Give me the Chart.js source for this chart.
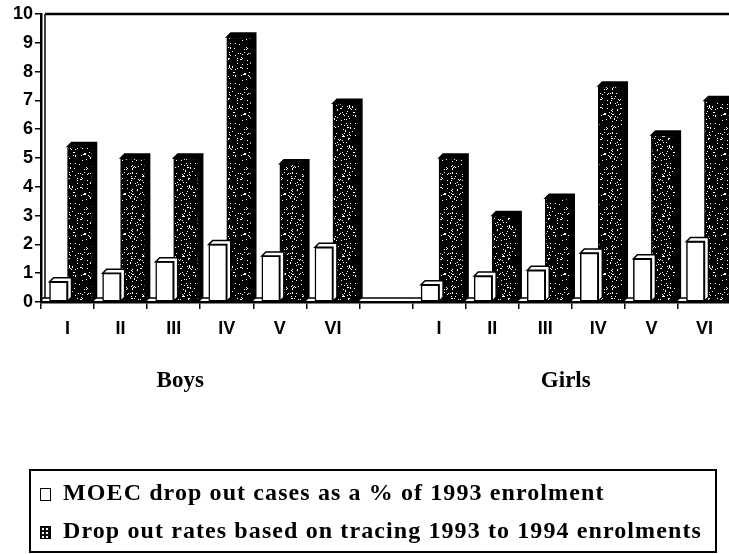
<!DOCTYPE html>
<html>
<head>
<meta charset="utf-8">
<script src="https://cdn.jsdelivr.net/npm/chart.js@4/dist/chart.umd.min.js"></script>
<style>
  html, body { margin: 0; padding: 0; background: #fff; overflow: hidden; }
  #wrap { position: relative; width: 729px; height: 554px; overflow: hidden; }
  #chart { position: absolute; left: 0; top: 0; }
  #legend {
    position: absolute; left: 29px; top: 469px; width: 684px; height: 80px;
    border: 2px solid #000;
    font-family: "Liberation Serif", "Times New Roman", serif; font-weight: bold;
    font-size: 24px; letter-spacing: 1.1px; color: #000;
  }
  .row { position: absolute; left: 9px; white-space: nowrap; line-height: 26px; }
  .sw { display: inline-block; width: 9px; height: 11px; border: 1.5px solid #000; margin-right: 12px; vertical-align: -1px; }
  .sw.dark { background: #111; background-image: radial-gradient(#fff 0.8px, transparent 1px); background-size: 4px 4px; }
</style>
</head>
<body>
<div id="wrap">
  <canvas id="chart" width="731" height="554"></canvas>
  <div id="legend">
    <div class="row" style="top:8px"><span class="sw"></span>MOEC drop out cases as a % of 1993 enrolment</div>
    <div class="row" style="top:46px"><span class="sw dark"></span>Drop out rates based on tracing 1993 to 1994 enrolments</div>
  </div>
</div>
<script>
// Categories (gap between boys and girls is an empty category)
let grades = ['I', 'II', 'III', 'IV', 'V', 'VI', '', 'I', 'II', 'III', 'IV', 'V', 'VI'];
let groupNames = ['Boys', 'Girls'];

// MOEC drop out cases as a % of 1993 enrolment
let moecValues = [0.7, 1.0, 1.4, 2.0, 1.6, 1.9, null, 0.6, 0.9, 1.1, 1.7, 1.5, 2.1];
// Drop out rates based on tracing 1993 to 1994 enrolments
let tracingValues = [5.4, 5.0, 5.0, 9.2, 4.8, 6.9, null, 5.0, 3.0, 3.6, 7.5, 5.8, 7.0];

let yTicks = [0, 1, 2, 3, 4, 5, 6, 7, 8, 9, 10];

// speckled black fill for the dark bars
function speckle() {
    let c = document.createElement('canvas');
    c.width = 40; c.height = 40;
    let g = c.getContext('2d');
    g.fillStyle = '#000';
    g.fillRect(0, 0, 40, 40);
    g.fillStyle = '#fff';
    let s = 12345;
    function next() {
        s = (s * 1103515245 + 12345) % 2147483648;
        return Math.floor(s / 65536) % 40;
    }
    for (let i = 0; i < 150; i++) {
        let x = next(), y = next();
        g.fillRect(x, y, 1, 1);
    }
    return g.createPattern(c, 'repeat');
}

const DEPTH = 4;

// floor, walls and the top edge of the back wall
const framePlugin = {
    id: 'frame',
    beforeDatasetsDraw(chart) {
        const { ctx, chartArea: a } = chart;
        ctx.save();
        ctx.strokeStyle = '#000';
        ctx.lineWidth = 1.5;
        ctx.beginPath();
        ctx.moveTo(a.left, a.bottom - DEPTH);
        ctx.lineTo(a.right, a.bottom - DEPTH);
        ctx.moveTo(a.left + DEPTH, a.top);
        ctx.lineTo(a.left + DEPTH, a.bottom - DEPTH);
        ctx.stroke();
        ctx.lineWidth = 2.5;
        ctx.beginPath();
        ctx.moveTo(a.left + DEPTH, a.top);
        ctx.lineTo(a.right, a.top);
        ctx.stroke();
        ctx.restore();
    },
    afterDatasetsDraw(chart) {
        // 3D tops and sides on every bar
        const { ctx } = chart;
        ctx.save();
        chart.data.datasets.forEach((ds, di) => {
            chart.getDatasetMeta(di).data.forEach((bar, i) => {
                if (ds.data[i] == null) return;
                let l = bar.x - bar.width / 2, r = bar.x + bar.width / 2, t = bar.y, b = bar.base;
                ctx.fillStyle = di === 0 ? '#fff' : '#000';
                ctx.strokeStyle = '#000';
                ctx.lineWidth = 1.5;
                ctx.beginPath();
                ctx.moveTo(l, t);
                ctx.lineTo(l + DEPTH, t - DEPTH);
                ctx.lineTo(r + DEPTH, t - DEPTH);
                ctx.lineTo(r + DEPTH, b - DEPTH);
                ctx.lineTo(r, b);
                ctx.lineTo(r, t);
                ctx.closePath();
                ctx.fill();
                ctx.stroke();
            });
        });
        ctx.restore();
    },
    afterDraw(chart) {
        // group names under the grade labels
        const { ctx } = chart;
        const x = chart.scales.x;
        ctx.save();
        ctx.font = 'bold 23px "Liberation Serif", serif';
        ctx.fillStyle = '#000';
        ctx.textAlign = 'center';
        ctx.textBaseline = 'middle';
        let boysX = (x.getPixelForValue(0) + x.getPixelForValue(5)) / 2 - 20;
        let girlsX = (x.getPixelForValue(7) + x.getPixelForValue(12)) / 2 - 6;
        ctx.fillText(groupNames[0], boysX, 381);
        ctx.fillText(groupNames[1], girlsX, 381);
        ctx.restore();
    }
};

const data = {
    labels: grades,
    datasets: [{
        label: 'MOEC drop out cases as a % of 1993 enrolment',
        data: moecValues,
        backgroundColor: '#fff',
        borderColor: '#000',
        borderWidth: 1.5,
        borderSkipped: false,
        barThickness: 18
    }, {
        label: 'Drop out rates based on tracing 1993 to 1994 enrolments',
        data: tracingValues,
        backgroundColor: speckle(),
        borderColor: '#000',
        borderWidth: 1.5,
        borderSkipped: false,
        barThickness: 25
    }]
};

var ctx = document.getElementById('chart').getContext('2d');
var dropoutChart = new Chart(ctx, {
    type: 'bar',
    data,
    plugins: [framePlugin],
    options: {
        responsive: false,
        animation: false,
        layout: { padding: { top: 14, right: 0, left: 0, bottom: 0 } },
        plugins: {
            legend: { display: false },
            tooltip: { enabled: false }
        },
        scales: {
            x: {
                offset: true,
                grid: { offset: true, drawOnChartArea: false, color: '#000', lineWidth: 1.5, tickLength: 7 },
                border: { color: '#000', width: 2.5 },
                ticks: {
                    color: '#000',
                    padding: 9,
                    maxRotation: 0,
                    autoSkip: false,
                    font: { family: 'Liberation Sans, Arial, sans-serif', weight: 'bold', size: 18 }
                },
                afterFit(scale) { scale.height = 252; }
            },
            y: {
                min: 0,
                max: 10,
                afterBuildTicks(scale) { scale.ticks = yTicks.map(v => ({ value: v })); },
                grid: { drawOnChartArea: false, color: '#000', lineWidth: 1.5, tickLength: 6 },
                border: { color: '#000', width: 2.5 },
                ticks: {
                    color: '#000',
                    padding: 2,
                    font: { family: 'Liberation Sans, Arial, sans-serif', weight: 'bold', size: 18 }
                },
                afterFit(scale) { scale.width = 41; }
            }
        }
    }
});
</script>
</body>
</html>
